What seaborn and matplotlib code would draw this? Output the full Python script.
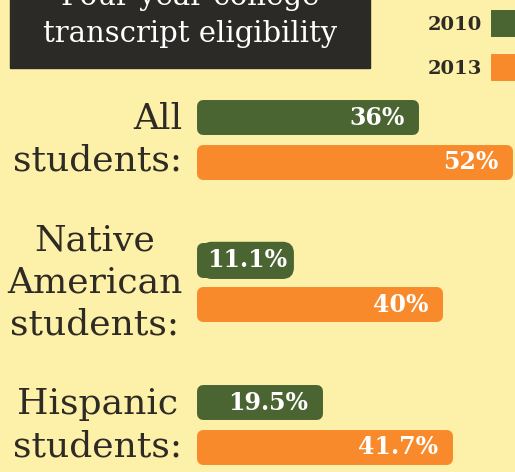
import matplotlib
matplotlib.use("Agg")
import matplotlib.pyplot as plt
import pandas as pd
import seaborn as sns
from matplotlib.patches import Rectangle

groups = ["All\nstudents:", "Native\nAmerican\nstudents:", "Hispanic\nstudents:"]
years = ["2010", "2013"]
pct_2010 = [36, 11.1, 19.5]
pct_2013 = [52, 40, 41.7]

BG = "#fdf0a8"
GREEN = "#4a6532"
ORANGE = "#f88a2c"
INK = "#2e2a24"

df = pd.DataFrame({
    "group": groups * 2,
    "year": ["2010"] * 3 + ["2013"] * 3,
    "pct": pct_2010 + pct_2013,
})

fig = plt.figure(figsize=(5.15, 4.72), dpi=100, facecolor=BG)
ax = fig.add_axes([203 / 515, 0, 312 / 515, 1])
ax.set_facecolor(BG)

sns.barplot(data=df, x="pct", y="group", hue="year", hue_order=years,
            order=groups, orient="h", palette=[GREEN, ORANGE],
            width=0.62, gap=0.48, saturation=1, errorbar=None, ax=ax)

ax.set_xlim(0, 53.4)
ax.set_ylim(2.33, -0.982)

# rounded ends via a fat round-joined edge in the bar colour
for p in ax.patches:
    p.set_edgecolor(p.get_facecolor())
    p.set_linewidth(8.6)
    p.set_joinstyle("round")
    p.set_clip_on(False)

# value labels
bars = ax.patches
vals = pct_2010 + pct_2013
for p, v in zip(bars, vals):
    yc = p.get_y() + p.get_height() / 2
    end = p.get_x() + p.get_width()
    if v < 15:
        ax.annotate(f"{v:g}%", xy=(0, yc), xytext=(3, 0),
                    textcoords="offset points", ha="left", va="center",
                    color="white", fontsize=17, weight="bold",
                    family="DejaVu Serif", annotation_clip=False,
                    bbox=dict(boxstyle="round,pad=0.25,rounding_size=0.45",
                              fc=GREEN, ec=GREEN))
    else:
        ax.annotate(f"{v:g}%", xy=(end, yc), xytext=(-6, 0),
                    textcoords="offset points", ha="right", va="center",
                    color="white", fontsize=17, weight="bold",
                    family="DejaVu Serif")

# category labels
ax.set_xlabel("")
ax.set_ylabel("")
ax.set_xticks([])
ax.tick_params(axis="y", length=0, pad=15)
for t in ax.get_yticklabels():
    t.set_fontsize(26)
    t.set_family("DejaVu Serif")
    t.set_color(INK)
    t.set_linespacing(1.3)
    t.set_va("center")
    t.set_multialignment("right" if t.get_text().startswith("All") else "center")
for s in ax.spines.values():
    s.set_visible(False)

# legend, label first
leg = ax.get_legend()
handles = leg.legend_handles
labels = [t.get_text() for t in leg.texts]
leg.remove()
for h in handles:
    h.set_edgecolor(h.get_facecolor())
    h.set_linewidth(5)
    h.set_joinstyle("round")
fig.legend(handles, labels, loc="upper right", bbox_to_anchor=(1.04, 1.01),
           markerfirst=False, frameon=False, handlelength=1.25,
           handleheight=1.25, labelspacing=1.2, handletextpad=0.6,
           prop=dict(family="DejaVu Serif", weight="bold", size=14))
for t in fig.legends[0].get_texts():
    t.set_color(INK)

# title box
fig.patches.append(Rectangle((10 / 515, 1 - 68 / 472), 360 / 515, 0.2,
                             transform=fig.transFigure, color="#2b2a27"))
fig.text(190 / 515, 1 - 5 / 472, "Four year college", ha="center",
         va="baseline", color="white", fontsize=21, family="DejaVu Serif")
fig.text(190 / 515, 1 - 42 / 472, "transcript eligibility", ha="center",
         va="baseline", color="white", fontsize=21, family="DejaVu Serif")

fig.savefig("out.png", dpi=100, facecolor=BG)
